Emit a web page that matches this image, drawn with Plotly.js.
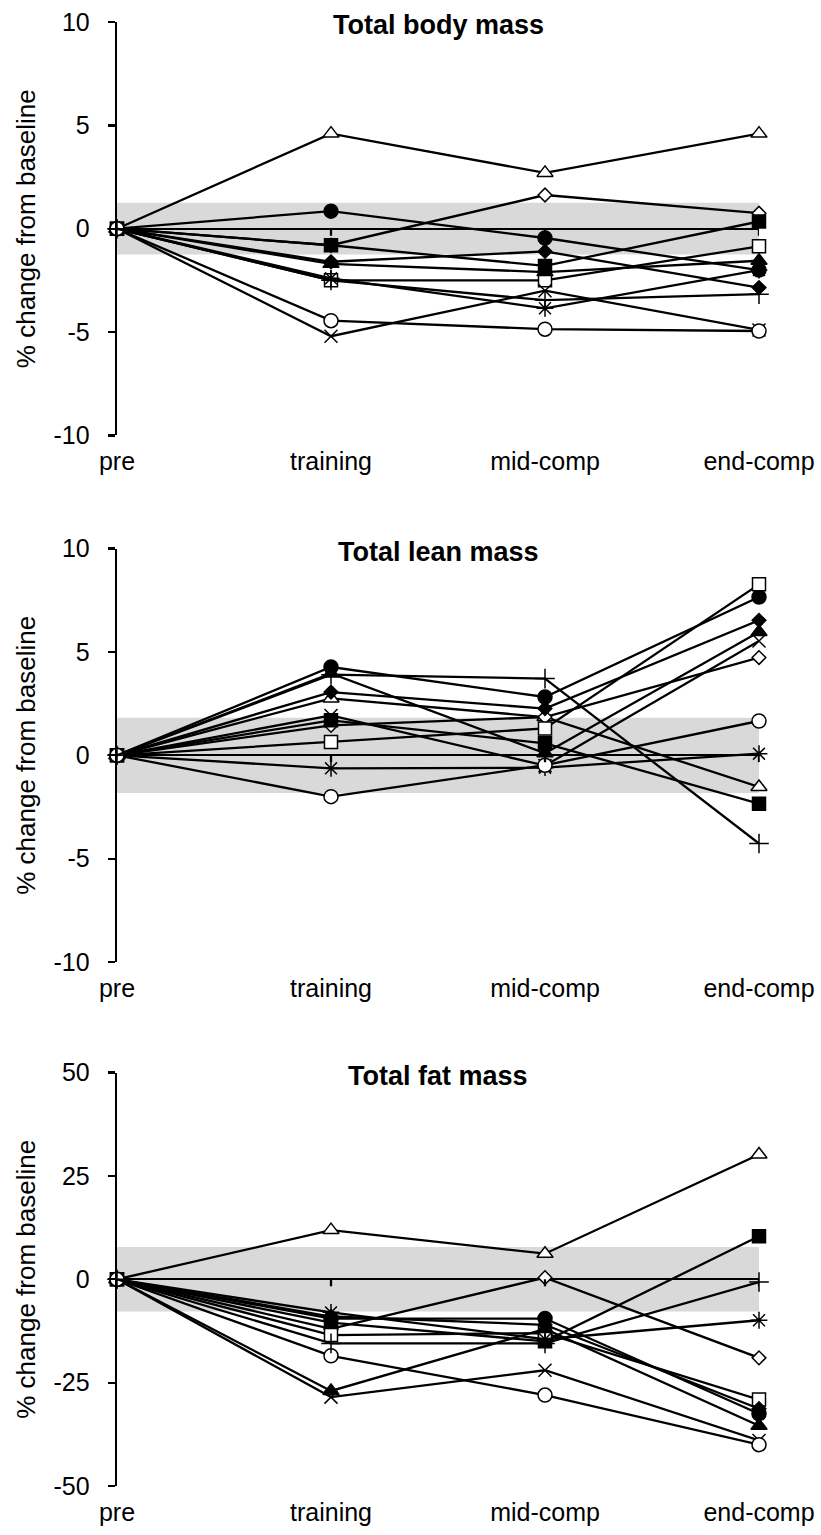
<!DOCTYPE html>
<html><head><meta charset="utf-8">
<script src="https://cdn.plot.ly/plotly-3.0.1.min.js"></script>
<style>html,body{margin:0;padding:0;background:#fff}</style>
</head><body><div id="chart" style="width:821px;height:1535px"></div>
<script>
// ---------- data ----------
const categories = ['pre', 'training', 'mid-comp', 'end-comp'];
const panelTitles = ['Total body mass', 'Total lean mass', 'Total fat mass'];
const yTickVals1 = [-10, -5, 0, 5, 10];
const yTickVals2 = [-10, -5, 0, 5, 10];
const yTickVals3 = [-50, -25, 0, 25, 50];
const yRange1 = [-10, 10];
const yRange2 = [-10, 10];
const yRange3 = [-50, 50];
const bandHalfWidth = [1.25, 1.82, 7.8];   // grey band = typical error (± %)

// Total body mass (% change from baseline)
const bodyTriOpen   = [0, 4.6, 2.7, 4.6];
const bodyCircFill  = [0, 0.85, -0.45, -2.0];
const bodyDiaOpen   = [0, -0.8, 1.63, 0.75];
const bodySqFill    = [0, -0.8, -1.8, 0.35];
const bodySqOpen    = [0, -2.5, -2.5, -0.85];
const bodyDiaFill   = [0, -1.6, -1.1, -2.85];
const bodyTriFill   = [0, -1.7, -2.1, -1.55];
const bodyStar      = [0, -2.4, -3.85, -2.0];
const bodyX         = [0, -5.2, -3.0, -4.9];
const bodyCircOpen  = [0, -4.45, -4.86, -4.95];
const bodyPlus      = [0, -2.5, -3.46, -3.17];

// Total lean mass
const leanTriOpen   = [0, 2.75, 1.85, -1.53];
const leanCircFill  = [0, 4.27, 2.82, 7.66];
const leanDiaOpen   = [0, 1.45, 1.85, 4.73];
const leanSqFill    = [0, 1.69, 0.58, -2.34];
const leanSqOpen    = [0, 0.64, 1.3, 8.27];
const leanDiaFill   = [0, 3.06, 2.26, 6.53];
const leanTriFill   = [0, 3.96, 0.1, 5.97];
const leanStar      = [0, -0.63, -0.6, 0.08];
const leanX         = [0, 1.93, -0.5, 5.53];
const leanCircOpen  = [0, -2.0, -0.48, 1.66];
const leanPlus      = [0, 3.9, 3.71, -4.27];

// Total fat mass
const fatTriOpen    = [0, 11.9, 6.2, 30.2];
const fatCircFill   = [0, -9.5, -9.5, -32.5];
const fatDiaOpen    = [0, -12, 0.4, -19];
const fatSqFill     = [0, -10.5, -15, 10.4];
const fatSqOpen     = [0, -13.5, -13, -29.1];
const fatDiaFill    = [0, -9, -11, -31.3];
const fatTriFill    = [0, -27, -12, -35.4];
const fatStar       = [0, -8, -14.5, -9.9];
const fatX          = [0, -28.5, -22, -39];
const fatCircOpen   = [0, -18.5, -28, -40];
const fatPlus       = [0, -15.5, -15.5, -0.65];

// ---------- styles ----------
const markerStyles = [
  {symbol: 'triangle-up', color: 'white', size: 14},
  {symbol: 'circle', color: 'black', size: 14},
  {symbol: 'diamond', color: 'white', size: 10.5},
  {symbol: 'square', color: 'black', size: 13},
  {symbol: 'square', color: 'white', size: 13},
  {symbol: 'diamond', color: 'black', size: 10.5},
  {symbol: 'triangle-up', color: 'black', size: 14},
  {symbol: 'asterisk-open', color: 'black', size: 14},
  {symbol: 'x-thin-open', color: 'black', size: 13},
  {symbol: 'circle', color: 'white', size: 14},
  {symbol: 'cross-thin-open', color: 'black', size: 14}
];
const panels = [
  [bodyTriOpen, bodyCircFill, bodyDiaOpen, bodySqFill, bodySqOpen, bodyDiaFill, bodyTriFill, bodyStar, bodyX, bodyCircOpen, bodyPlus],
  [leanTriOpen, leanCircFill, leanDiaOpen, leanSqFill, leanSqOpen, leanDiaFill, leanTriFill, leanStar, leanX, leanCircOpen, leanPlus],
  [fatTriOpen, fatCircFill, fatDiaOpen, fatSqFill, fatSqOpen, fatDiaFill, fatTriFill, fatStar, fatX, fatCircOpen, fatPlus]
];
const yRanges = [yRange1, yRange2, yRange3];
const yTicks = [yTickVals1, yTickVals2, yTickVals3];

// ---------- layout geometry (pixels) ----------
const W = 821, H = 1535;
const plotLeft = 117, plotRight = 759;
const plotTops = [21.7, 548.3, 1072.3];
const plotH = 413.4;
const mT = 21.7, mB = H - (plotTops[2] + plotH);
const innerH = H - mT - mB;
const xIdx = categories.map((c, i) => i);
const FONT = 'Liberation Sans, Arial, sans-serif';

const traces = [];
const layout = {
  width: W, height: H,
  margin: {l: plotLeft, r: W - plotRight, t: mT, b: mB, pad: 0},
  paper_bgcolor: 'white', plot_bgcolor: 'white',
  showlegend: false,
  font: {family: FONT, color: 'black'},
  shapes: [], annotations: []
};

panels.forEach((series, p) => {
  const xa = 'x' + (p === 0 ? '' : p + 1);
  const ya = 'y' + (p === 0 ? '' : p + 1);
  const top = plotTops[p];
  const d0 = (H - mB - (top + plotH)) / innerH;
  const d1 = (H - mB - top) / innerH;
  layout['xaxis' + (p === 0 ? '' : p + 1)] = {
    domain: [0, 1], anchor: ya, range: [0, 3],
    tickvals: xIdx, ticktext: categories,
    showgrid: false, zeroline: false, showline: false, ticks: '',
    tickfont: {size: 25, family: FONT},
    ticklabelstandoff: 9
  };
  layout['yaxis' + (p === 0 ? '' : p + 1)] = {
    domain: [d0, d1], anchor: xa, range: yRanges[p],
    tickvals: yTicks[p], ticktext: yTicks[p].map(String),
    showgrid: false, zeroline: true, zerolinecolor: 'black', zerolinewidth: 2.3,
    showline: true, linecolor: 'black', linewidth: 2.3,
    ticks: 'outside', ticklen: 7, tickwidth: 2.3, tickcolor: 'black',
    tickfont: {size: 25, family: FONT},
    ticklabelstandoff: 13,
    title: {text: '% change from baseline', font: {size: 26, family: FONT}, standoff: 11}
  };
  // grey band
  layout.shapes.push({
    type: 'rect', xref: xa, yref: ya, x0: 0, x1: 3,
    y0: -bandHalfWidth[p], y1: bandHalfWidth[p],
    fillcolor: '#d9d9d9', line: {width: 0}, layer: 'below'
  });
  // category tick marks on the zero line
  xIdx.slice(1).forEach(i => {
    layout.shapes.push({
      type: 'line', xref: xa, yref: ya, x0: i, x1: i,
      ysizemode: 'pixel', yanchor: 0, y0: 0, y1: -7,
      line: {color: 'black', width: 2.3}, layer: 'above'
    });
  });
  layout.annotations.push({
    text: '<b>' + panelTitles[p] + '</b>', xref: xa + ' domain', yref: ya + ' domain',
    x: 0.5, y: 1, xanchor: 'center', yanchor: 'middle', yshift: -3,
    showarrow: false, font: {size: 27, family: FONT}
  });
  series.forEach((vals, s) => {
    const st = markerStyles[s];
    traces.push({
      type: 'scatter', mode: 'lines+markers', xaxis: xa, yaxis: ya,
      x: xIdx, y: vals, cliponaxis: false,
      line: {color: 'black', width: 2.3},
      marker: {symbol: st.symbol, color: st.color, size: st.size,
               line: {color: 'black', width: 1.5}},
      hoverinfo: 'skip'
    });
  });
});

Plotly.newPlot('chart', traces, layout, {staticPlot: true, displayModeBar: false});
</script>
</body></html>
